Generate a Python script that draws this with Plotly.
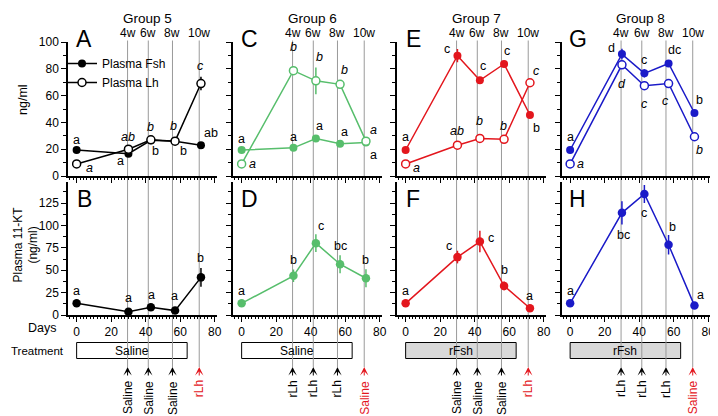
import plotly.graph_objects as go
from plotly.subplots import make_subplots

# Sampling days and week markers
days = [0, 30, 43, 57, 72]
week_days = [29.5, 41.5, 55.5, 71]
week_labels = ["4w", "6w", "8w", "10w"]

groups = ["Group 5", "Group 6", "Group 7", "Group 8"]
top_panels = ["A", "C", "E", "G"]
bottom_panels = ["B", "D", "F", "H"]
treatments = ["Saline", "Saline", "rFsh", "rFsh"]
treatment_end = 64
injections_g5 = ["Saline", "Saline", "Saline", "rLh"]
injections_g6 = ["rLh", "rLh", "rLh", "Saline"]
injections_g7 = ["Saline", "Saline", "Saline", "rLh"]
injections_g8 = ["rLh", "rLh", "rLh", "Saline"]

# Plasma Fsh (ng/ml)
fsh_g5 = [19.4, 16.6, 26.6, 26, 23]
fsh_g6 = [19.4, 21, 28, 24, 25]
fsh_g7 = [19.4, 89.8, 71.4, 83.6, 45.5]
fsh_g8 = [19.4, 91, 76.6, 84, 47]
fsh_err_g5 = [1, 1.5, 1, 1, 1.5]
fsh_err_g6 = [1, 1, 2, 1, 1]
fsh_err_g7 = [1, 5, 2, 2, 2]
fsh_err_g8 = [1, 4, 3, 2, 1]

# Plasma Lh (ng/ml)
lh_g5 = [9, 20, 27, 26, 69]
lh_g6 = [9, 78.6, 71, 68.4, 26]
lh_g7 = [9, 23, 28, 27.4, 69.6]
lh_g8 = [9, 83, 67.4, 69, 29.3]
lh_err_g5 = [1, 1.5, 1.5, 1.5, 5]
lh_err_g6 = [1, 3, 10, 3, 1.5]
lh_err_g7 = [1, 1.5, 3, 1.5, 2]
lh_err_g8 = [1, 2, 3, 2, 1]

# Plasma 11-KT (ng/ml)
kt_g5 = [13, 3.7, 8.6, 4.9, 42]
kt_g6 = [13, 43.7, 80.2, 56.7, 41]
kt_g7 = [13, 64.6, 82, 32.5, 7.5]
kt_g8 = [13, 114, 135, 78.4, 10.5]
kt_err_g5 = [1, 1, 1, 1, 10.5]
kt_err_g6 = [2, 7, 10, 10, 10]
kt_err_g7 = [2, 7, 12, 5, 1]
kt_err_g8 = [2, 13, 10, 11, 1]

# significance letters
fsh_sig_g5 = ["a", "a", "b", "b", "ab"]
fsh_sig_g6 = ["a", "a", "a", "a", "a"]
fsh_sig_g7 = ["a", "c", "c", "c", "b"]
fsh_sig_g8 = ["a", "d", "c", "dc", "b"]
lh_sig_g5 = ["a", "ab", "b", "b", "c"]
lh_sig_g6 = ["a", "b", "b", "b", "a"]
lh_sig_g7 = ["a", "ab", "b", "b", "c"]
lh_sig_g8 = ["a", "d", "c", "c", "b"]
kt_sig_g5 = ["a", "a", "a", "a", "b"]
kt_sig_g6 = ["a", "b", "c", "bc", "b"]
kt_sig_g7 = ["a", "c", "c", "b", "a"]
kt_sig_g8 = ["a", "bc", "c", "b", "a"]

fsh_all = [fsh_g5, fsh_g6, fsh_g7, fsh_g8]
fsh_err_all = [fsh_err_g5, fsh_err_g6, fsh_err_g7, fsh_err_g8]
lh_all = [lh_g5, lh_g6, lh_g7, lh_g8]
lh_err_all = [lh_err_g5, lh_err_g6, lh_err_g7, lh_err_g8]
kt_all = [kt_g5, kt_g6, kt_g7, kt_g8]
kt_err_all = [kt_err_g5, kt_err_g6, kt_err_g7, kt_err_g8]
fsh_sig_all = [fsh_sig_g5, fsh_sig_g6, fsh_sig_g7, fsh_sig_g8]
lh_sig_all = [lh_sig_g5, lh_sig_g6, lh_sig_g7, lh_sig_g8]
kt_sig_all = [kt_sig_g5, kt_sig_g6, kt_sig_g7, kt_sig_g8]
injections_all = [injections_g5, injections_g6, injections_g7, injections_g8]

# label offsets in pixels (xshift, yshift)
fsh_shift = [
    [(0, 10), (-8, -7), (5, -11), (8, -10), (10, 12)],
    [(0, 11), (0, 11), (4, 12), (4, 12), (8, -12)],
    [(0, 13), (-10, 7), (3, 14), (3, 13), (7, -13)],
    [(0, 13), (-10, 6), (0, 13), (6, 13), (5, 13)],
]
lh_shift = [
    [(13, -4), (0, 12), (0, 13), (-2, 15), (0, 18)],
    [(11, 0), (0, 24), (4, 24), (4, 14), (8, 11)],
    [(11, -4), (0, 14), (0, 17), (-1, 13), (7, 12)],
    [(10, 0), (0, -19), (0, -18), (-3, -17), (5, -13)],
]
kt_shift = [
    [(0, 12), (0, 14), (1, 12), (-1, 15), (0, 19)],
    [(0, 12), (0, 16), (5, 17), (0, 18), (0, 18)],
    [(0, 12), (-8, 11), (11, 4), (0, 16), (0, 12)],
    [(0, 12), (2, -22), (0, -19), (4, 18), (6, 11)],
]

colors = ["black", "#57be6c", "#e3161d", "#1a1ac8"]
red = "#e3161d"
font = "Liberation Sans, Arial, sans-serif"
W, H = 718, 416
OFF = 8  # the page body margin shifts the figure by 8px


def px(x):
    return (x - OFF) / W


def py(y):
    return 1 - (y - OFF) / H


def label(**kw):
    kw.setdefault("xanchor", "center")
    kw.setdefault("yanchor", "middle")
    fig.add_annotation(showarrow=False, **kw)


col_left = [68, 233, 397, 561.5]
col_width = 148.5
top_dom = [py(176), py(42)]
bot_dom = [py(315), py(181.5)]

fig = make_subplots(rows=2, cols=4)

for c in range(4):
    col = colors[c]
    xt, xb = c + 1, c + 5
    fig.add_trace(go.Scatter(
        x=days, y=fsh_all[c], mode="lines+markers", name="Plasma Fsh",
        showlegend=(c == 0), legendrank=1,
        line=dict(color=col, width=1.5),
        marker=dict(color=col, size=8),
        error_y=dict(type="data", array=fsh_err_all[c], width=0, thickness=1.5, color=col),
    ), row=1, col=c + 1)
    fig.add_trace(go.Scatter(
        x=days, y=lh_all[c], mode="lines+markers", name="Plasma Lh",
        showlegend=(c == 0), legendrank=2,
        line=dict(color=col, width=1.5),
        marker=dict(color="white", size=8, line=dict(color=col, width=1.5)),
        error_y=dict(type="data", array=lh_err_all[c], width=0, thickness=1.5, color=col),
    ), row=1, col=c + 1)
    fig.add_trace(go.Scatter(
        x=days, y=kt_all[c], mode="lines+markers", showlegend=False,
        line=dict(color=col, width=1.5),
        marker=dict(color=col, size=8.5),
        error_y=dict(type="data", array=kt_err_all[c], width=0, thickness=1.5, color=col),
    ), row=2, col=c + 1)

    dom = [px(col_left[c]), px(col_left[c] + col_width)]
    xcommon = dict(domain=dom, range=[-5, 81], showline=True, linecolor="black", linewidth=1.5,
                   ticks="outside", tickvals=[0, 20, 40, 60, 80], ticklen=5, tickwidth=1,
                   tickcolor="black", showgrid=False, zeroline=False, automargin=False,
                   minor=dict(dtick=2, tick0=0, ticks="outside", ticklen=2.5, tickcolor="black",
                              tickwidth=1, showgrid=False),
                   tickfont=dict(family=font, size=12, color="black"))
    fig.layout[f"xaxis{xt}"].update(showticklabels=False, **xcommon)
    fig.layout[f"xaxis{xb}"].update(showticklabels=True, **xcommon)
    ycommon = dict(showline=True, linecolor="black", linewidth=1.5, ticks="outside",
                   ticklen=5, tickwidth=1, tickcolor="black", showgrid=False, zeroline=False,
                   showticklabels=(c == 0), automargin=False,
                   tickfont=dict(family=font, size=12, color="black"))
    fig.layout[f"yaxis{xt}"].update(domain=top_dom, range=[0, 100],
                                    tickvals=[0, 20, 40, 60, 80, 100],
                                    minor=dict(dtick=10, tick0=0, ticks="outside", ticklen=3,
                                               tickcolor="black", showgrid=False),
                                    **ycommon)
    fig.layout[f"yaxis{xb}"].update(domain=bot_dom, range=[0, 149],
                                    tickvals=[0, 25, 50, 75, 100, 125],
                                    minor=dict(dtick=12.5, tick0=0, ticks="outside", ticklen=3,
                                               tickcolor="black", showgrid=False),
                                    **ycommon)

    # significance letters
    for k in range(5):
        for vals, sig, sh, ax, ital in [
            (fsh_all[c], fsh_sig_all[c], fsh_shift[c], xt, False),
            (lh_all[c], lh_sig_all[c], lh_shift[c], xt, True),
            (kt_all[c], kt_sig_all[c], kt_shift[c], xb, False),
        ]:
            txt = f"<i>{sig[k]}</i>" if ital else sig[k]
            label(x=days[k], y=vals[k], xref=f"x{ax}", yref=f"y{ax}",
                  text=txt, xshift=sh[k][0], yshift=sh[k][1],
                  font=dict(family=font, size=12.5, color="black"))

    # panel letters
    label(x=4.5, y=py(38.5), xref=f"x{xt}", yref="paper", text=top_panels[c],
          font=dict(family=font, size=23, color="black"))
    label(x=4.5, y=py(198.5), xref=f"x{xb}", yref="paper", text=bottom_panels[c],
          font=dict(family=font, size=23, color="black"))
    # group title (kept just inside the drawable area)
    label(x=41, y=py(8.5), xref=f"x{xt}", yref="paper", text=groups[c], yanchor="top",
          font=dict(family=font, size=13.5, color="black"))

    # treatment box
    fig.add_shape(type="rect", xref=f"x{xb}", yref="paper", x0=0, x1=treatment_end,
                  y0=py(358.5), y1=py(342.5), layer="below",
                  fillcolor="white" if treatments[c] == "Saline" else "#d9d9d9",
                  line=dict(color="black", width=1))
    label(x=treatment_end / 2, y=py(350.5), xref=f"x{xb}", yref="paper",
          text=treatments[c], font=dict(family=font, size=12, color="black"))

    for w, d in enumerate(week_days):
        fig.add_shape(type="line", xref=f"x{xb}", yref="paper", x0=d, x1=d,
                      y0=py(367), y1=py(40.5), layer="below",
                      line=dict(color="#9a9a9a", width=1))
        label(x=d, y=py(33), xref=f"x{xt}", yref="paper", text=week_labels[w],
              font=dict(family=font, size=12, color="black"))
        inj = injections_all[c][w]
        acol = red if w == 3 else "black"
        fig.add_annotation(x=d, y=py(367), xref=f"x{xb}", yref="paper", text="",
                           showarrow=True, ax=0, ay=10, arrowhead=3, arrowsize=1.4,
                           arrowwidth=1, arrowcolor=acol)
        label(x=d, y=py(378.5), xref=f"x{xb}", yref="paper", text=inj,
              textangle=-90, yanchor="top", font=dict(family=font, size=12, color=acol))

# side labels
label(x=px(23), y=py(100), xref="paper", yref="paper", text="ng/ml",
      textangle=-90, font=dict(family=font, size=12.5, color="black"))
label(x=px(8.5), y=py(245), xref="paper", yref="paper", xanchor="left",
      text="Plasma 11-KT<br>(ng/ml)", textangle=-90,
      font=dict(family=font, size=12, color="black"))
label(x=px(58), y=py(328), xref="paper", yref="paper", text="Days",
      xanchor="right", font=dict(family=font, size=12.5, color="black"))
label(x=px(8.5), y=py(350.5), xref="paper", yref="paper", text="Treatment",
      xanchor="left", font=dict(family=font, size=11.5, color="black"))

fig.update_layout(
    width=W, height=H,
    margin=dict(l=0, r=0, t=0, b=0),
    paper_bgcolor="white", plot_bgcolor="white",
    font=dict(family=font, size=12, color="black"),
    legend=dict(x=px(62), y=py(49), xanchor="left", yanchor="top",
                bgcolor="rgba(0,0,0,0)", font=dict(family=font, size=12),
                itemwidth=30, tracegroupgap=0),
)

fig.write_html("out.html")
